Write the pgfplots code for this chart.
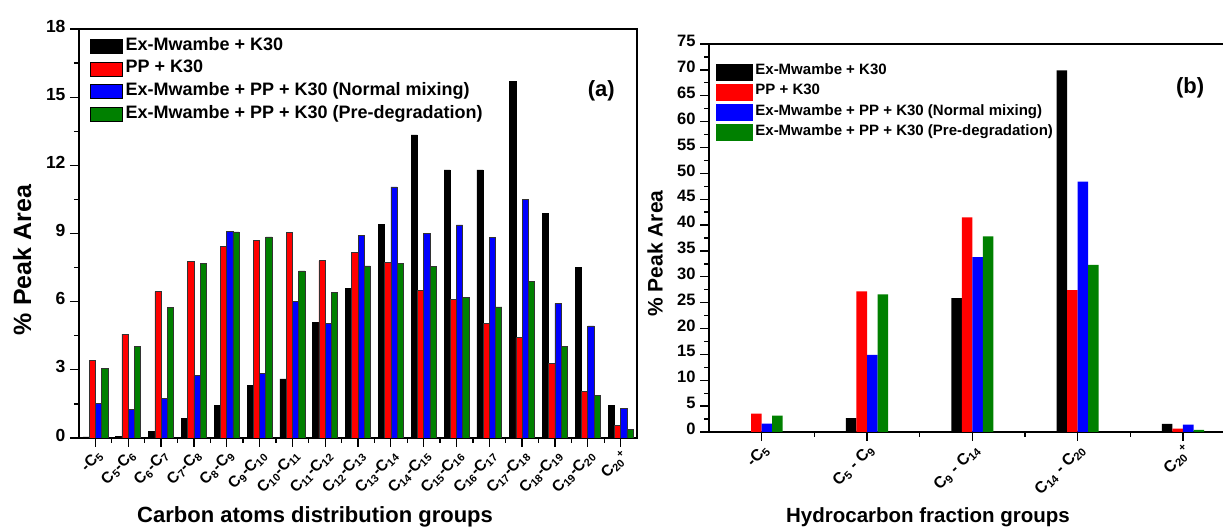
\documentclass[border=0pt]{standalone}
\usepackage{fontspec}
\setmainfont{Liberation Sans}
\usepackage{pgfplots}
\pgfplotsset{compat=1.18}
\usepackage{pgfplotstable}

\definecolor{bblack}{RGB}{0,0,0}
\definecolor{bred}{RGB}{255,0,0}
\definecolor{bblue}{RGB}{0,0,255}
\definecolor{bgreen}{RGB}{0,128,0}

\newcommand{\sub}[1]{\textsubscript{#1}}
\newcommand{\fs}[1]{\bfseries\fontsize{#1}{#1}\selectfont}

% panel (a): carbon atoms distribution groups
\pgfplotstableread{
x exk pp norm pre
0  0.05  3.41  1.53  3.05
1  0.07  4.57  1.26  4.03
2  0.28  6.44  1.76  5.75
3  0.86  7.78  2.75  7.68
4  1.42  8.44  9.10  9.07
5  2.30  8.68  2.83  8.85
6  2.60  9.04  6.00  7.35
7  5.08  7.80  5.05  6.40
8  6.59  8.16  8.93  7.57
9  9.41  7.74 11.05  7.70
10 13.34  6.48  9.00  7.56
11 11.80  6.09  9.38  6.20
12 11.80  5.05  8.83  5.77
13 15.70  4.42 10.50  6.88
14  9.90  3.29  5.93  4.02
15  7.52  2.05  4.93  1.88
16  1.44  0.57  1.29  0.38
}\tabA

% panel (b): hydrocarbon fraction groups
\pgfplotstableread{
x exk pp norm pre
0  0.00  3.55  1.60  3.16
1  2.70 27.20 14.90 26.60
2 25.90 41.50 33.80 37.80
3 69.90 27.40 48.40 32.30
4  1.55  0.65  1.42  0.39
}\tabB

\pgfplotsset{
  common/.style={
    scale only axis,
    ybar=0pt,
    ymin=0,
    tick align=outside,
    major tick length=9pt,
    minor tick length=5pt,
    every tick/.style={black, line width=1.3pt},
    minor x tick num=1,
    minor y tick num=1,
    xtick={0,...,16},
    /pgf/number format/assume math mode=true,
    yticklabel style={yshift=3pt, xshift=-1pt},
    xticklabel style={rotate=45, anchor=north east, inner sep=1pt},
    legend cell align=left,
  },
}

\begin{document}
\begin{tikzpicture}
\path[use as bounding box] (0,0) rectangle (1223pt,529pt);

\begin{axis}[common,
  at={(79pt,91pt)}, anchor=south west,
  width=558pt, height=409pt,
  axis line style={line width=1.6pt},
  xmin=-0.5, xmax=16.5,
  ymax=18, ytick={0,3,...,18},
  xtick pos=left, ytick pos=left,
  bar width=0.19,
  yticklabel style={font=\fs{17.5}},
  xticklabels={-C\sub{5}, C\sub{5}-C\sub{6}, C\sub{6}-C\sub{7}, C\sub{7}-C\sub{8},
    C\sub{8}-C\sub{9}, C\sub{9}-C\sub{10}, C\sub{10}-C\sub{11}, C\sub{11}-C\sub{12},
    C\sub{12}-C\sub{13}, C\sub{13}-C\sub{14}, C\sub{14}-C\sub{15}, C\sub{15}-C\sub{16},
    C\sub{16}-C\sub{17}, C\sub{17}-C\sub{18}, C\sub{18}-C\sub{19}, C\sub{19}-C\sub{20},
    C\sub{20}\textsuperscript{+}},
  xticklabel style={font=\fs{15.5}},
  xlabel={Carbon atoms distribution groups},
  xlabel style={font=\fs{22}, at={(axis description cs:0.423,-0.193)}, anchor=center},
  ylabel={\% Peak Area},
  ylabel style={font=\fs{25}, at={(axis description cs:-0.102,0.435)}, anchor=center},
  legend image code/.code={\draw[#1, draw=black, line width=0.7pt] (0pt,-7pt) rectangle (32pt,7pt);},
  legend style={draw=none, fill=none, font=\fs{18}, inner sep=0pt,
    at={(axis description cs:0.02,0.978)}, anchor=north west, row sep=6.7pt,
    nodes={inner xsep=2.5pt, inner ysep=0pt, text height=12pt, text depth=4pt}},
]
\addplot[fill=bblack, draw=black, line width=0.6pt] table[x=x, y=exk] {\tabA};
\addlegendentry{Ex-Mwambe + K30}
\addplot[fill=bred, draw=black!80, line width=0.6pt] table[x=x, y=pp] {\tabA};
\addlegendentry{PP + K30}
\addplot[fill=bblue, draw=black!80, line width=0.6pt] table[x=x, y=norm] {\tabA};
\addlegendentry{Ex-Mwambe + PP + K30 (Normal mixing)}
\addplot[fill=bgreen, draw=black!80, line width=0.6pt] table[x=x, y=pre] {\tabA};
\addlegendentry{Ex-Mwambe + PP + K30 (Pre-degradation)}
\node[font=\fs{22}] at (axis description cs:0.936,0.85) {(a)};
\end{axis}

\begin{axis}[common,
  at={(709pt,97pt)}, anchor=south west,
  width=514pt, height=388pt,
  axis x line*=box, axis y line*=left,
  axis line style={line width=1.6pt},
  xtick pos=left, ytick pos=left,
  xmin=-0.5, xmax=4.38,
  ymax=75, ytick={0,5,...,75},
  xtick={0,...,4},
  bar width=0.1,
  yticklabel style={font=\fs{16.5}},
  xticklabels={-C\sub{5}, C\sub{5} - C\sub{9}, C\sub{9} - C\sub{14},
    C\sub{14} - C\sub{20}, C\sub{20}\textsuperscript{+}},
  xticklabel style={font=\fs{16}},
  xlabel={Hydrocarbon fraction groups},
  xlabel style={font=\fs{20.5}, at={(axis description cs:0.426,-0.219)}, anchor=center},
  ylabel={\% Peak Area},
  ylabel style={font=\fs{21}, at={(axis description cs:-0.105,0.46)}, anchor=center},
  legend image code/.code={\fill[#1] (0pt,-8.5pt) rectangle (37pt,8.5pt);},
  legend style={draw=none, fill=none, font=\fs{15}, inner sep=0pt,
    at={(axis description cs:0.014,0.95)}, anchor=north west, row sep=3.2pt,
    nodes={inner xsep=2pt, inner ysep=0pt, text height=11pt, text depth=6pt}},
]
\addplot[fill=bblack, draw=none] table[x=x, y=exk] {\tabB};
\addlegendentry{Ex-Mwambe + K30}
\addplot[fill=bred, draw=none] table[x=x, y=pp] {\tabB};
\addlegendentry{PP + K30}
\addplot[fill=bblue, draw=none] table[x=x, y=norm] {\tabB};
\addlegendentry{Ex-Mwambe + PP + K30 (Normal mixing)}
\addplot[fill=bgreen, draw=none] table[x=x, y=pre] {\tabB};
\addlegendentry{Ex-Mwambe + PP + K30 (Pre-degradation)}
\node[font=\fs{22}] at (axis description cs:0.936,0.887) {(b)};
\end{axis}
\end{tikzpicture}
\end{document}
